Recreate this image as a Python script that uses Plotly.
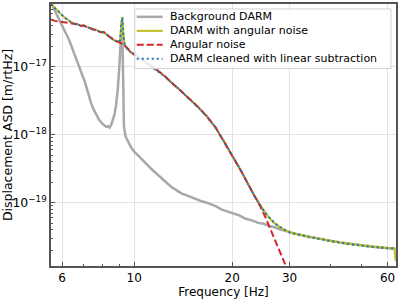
import plotly.graph_objects as go

# ---------------- data ----------------
F_BG = [5.55, 5.7, 5.85, 6.0, 6.15, 6.3, 6.45, 6.6, 6.75, 6.9,
        7.05, 7.2, 7.35, 7.5, 7.65, 7.8, 7.95, 8.1, 8.2, 8.3,
        8.4, 8.5, 8.6, 8.7, 8.8, 8.9, 9.0, 9.08, 9.15, 9.2,
        9.25, 9.3, 9.4, 9.55, 9.7, 9.85, 10.0, 10.3, 10.6, 11.0,
        11.4, 11.8, 12.2, 12.6, 13.0, 13.5, 14.0, 14.5, 15.0, 15.5,
        16.0, 16.6, 17.2, 17.8, 18.5, 19.2, 20.0, 21.0, 22.0, 23.0,
        24, 25, 26, 27, 28, 29, 30, 32, 34, 36,
        38, 40, 43, 46, 50, 54, 58, 63.6]
BG = [8.6e-17, 6.6e-17, 5.2e-17, 4.1e-17, 3.2e-17, 2.5e-17, 1.85e-17, 1.4e-17, 1.08e-17, 8.2e-18,
      6.0e-18, 4.3e-18, 3.0e-18, 2.35e-18, 1.95e-18, 1.65e-18, 1.48e-18, 1.37e-18, 1.3e-18, 1.33e-18,
      1.27e-18, 1.4e-18, 1.62e-18, 2.0e-18, 2.8e-18, 4.6e-18, 1.0e-17, 2.6e-17, 4.6e-17, 2.5e-17,
      4.0e-18, 1.3e-18, 9.5e-19, 8.0e-19, 7.0e-19, 6.2e-19, 5.6e-19, 4.9e-19, 4.2e-19, 3.55e-19,
      3.0e-19, 2.6e-19, 2.2e-19, 1.92e-19, 1.7e-19, 1.52e-19, 1.36e-19, 1.28e-19, 1.19e-19, 1.14e-19,
      1.06e-19, 1.01e-19, 9.4e-20, 8.9e-20, 8.0e-20, 7.5e-20, 6.9e-20, 6.5e-20, 5.8e-20, 5.5e-20,
      5.05e-20, 4.9e-20, 4.55e-20, 4.35e-20, 4.05e-20, 3.9e-20, 3.7e-20, 3.4e-20, 3.2e-20, 3.0e-20,
      2.85e-20, 2.75e-20, 2.6e-20, 2.48e-20, 2.35e-20, 2.25e-20, 2.18e-20, 2.1e-20]

F_DARM = [5.55, 5.65, 5.8, 5.95, 6.1, 6.25, 6.4, 6.55, 6.7, 6.85,
          7.0, 7.15, 7.3, 7.45, 7.6, 7.75, 7.9, 8.05, 8.2, 8.35,
          8.5, 8.65, 8.8, 8.95, 9.05, 9.12, 9.19, 9.26, 9.35, 9.5,
          9.7, 9.9, 10.1, 10.4, 10.7, 11.0, 11.3, 11.6, 12.0, 12.4,
          12.8, 13.2, 13.6, 14.0, 14.4, 14.8, 15.3, 15.8, 16.3, 16.8,
          17.3, 17.8, 18.3, 18.8, 19.3, 19.8, 20.3, 20.8, 21.3, 21.8,
          22.3, 22.8, 23.3, 23.8, 24.3, 24.8, 25.3, 25.8, 26.3, 26.8,
          27.4, 28.0, 28.6, 29.2, 29.8, 30.5, 31.2, 32.0, 32.8, 33.6,
          34.4, 35.2, 36.0, 37.0, 38.0, 39.0, 40.0, 41.0, 42.0, 43.0,
          44, 45, 46, 47, 48, 49, 50, 51, 52, 53,
          54, 55, 56, 57, 58, 59, 60, 61, 62, 63,
          63.6]
DARM_ANG = [8.4e-17, 7.6e-17, 6.7e-17, 5.9e-17, 5.3e-17, 4.8e-17, 4.5e-17, 4.2e-17, 4.2e-17, 3.95e-17,
            4.05e-17, 3.8e-17, 3.72e-17, 3.52e-17, 3.5e-17, 3.36e-17, 3.2e-17, 3.25e-17, 2.98e-17, 2.75e-17,
            2.62e-17, 2.45e-17, 2.38e-17, 2.3e-17, 2.5e-17, 4.2e-17, 5.4e-17, 3.1e-17, 2.05e-17, 1.86e-17,
            1.66e-17, 1.56e-17, 1.45e-17, 1.34e-17, 1.2e-17, 1.12e-17, 1.0e-17, 9.3e-18, 8.2e-18, 7.3e-18,
            6.2e-18, 5.5e-18, 4.8e-18, 4.3e-18, 3.75e-18, 3.35e-18, 2.85e-18, 2.5e-18, 2.1e-18, 1.82e-18,
            1.5e-18, 1.27e-18, 1.0e-18, 8.3e-19, 6.6e-19, 5.4e-19, 4.3e-19, 3.65e-19, 2.9e-19, 2.38e-19,
            1.9e-19, 1.57e-19, 1.3e-19, 1.1e-19, 9.4e-20, 8.0e-20, 7.1e-20, 6.2e-20, 5.7e-20, 5.1e-20,
            4.8e-20, 4.35e-20, 4.15e-20, 3.85e-20, 3.8e-20, 3.55e-20, 3.55e-20, 3.35e-20, 3.35e-20, 3.2e-20,
            3.2e-20, 3.05e-20, 3.05e-20, 2.9e-20, 2.95e-20, 2.78e-20, 2.8e-20, 2.66e-20, 2.7e-20, 2.56e-20,
            2.6e-20, 2.46e-20, 2.52e-20, 2.42e-20, 2.46e-20, 2.36e-20, 2.4e-20, 2.3e-20, 2.36e-20, 2.26e-20,
            2.3e-20, 2.22e-20, 2.27e-20, 2.18e-20, 2.24e-20, 2.15e-20, 2.2e-20, 2.12e-20, 2.18e-20, 2.1e-20,
            1.4e-20]
DARM_CLEAN = [8.3e-17, 7.5e-17, 6.75e-17, 5.95e-17, 5.25e-17, 4.85e-17, 4.45e-17, 4.25e-17, 4.15e-17, 4.0e-17,
              4.0e-17, 3.85e-17, 3.68e-17, 3.55e-17, 3.46e-17, 3.38e-17, 3.22e-17, 3.2e-17, 3.0e-17, 2.78e-17,
              2.6e-17, 2.47e-17, 2.36e-17, 2.32e-17, 2.45e-17, 4.1e-17, 5.3e-17, 3.0e-17, 2.08e-17, 1.84e-17,
              1.68e-17, 1.54e-17, 1.46e-17, 1.32e-17, 1.22e-17, 1.1e-17, 1.01e-17, 9.2e-18, 8.3e-18, 7.2e-18,
              6.3e-18, 5.4e-18, 4.85e-18, 4.25e-18, 3.8e-18, 3.3e-18, 2.9e-18, 2.45e-18, 2.12e-18, 1.8e-18,
              1.52e-18, 1.25e-18, 1.02e-18, 8.2e-19, 6.7e-19, 5.3e-19, 4.35e-19, 3.6e-19, 2.95e-19, 2.35e-19,
              1.92e-19, 1.55e-19, 1.32e-19, 1.09e-19, 9.5e-20, 7.9e-20, 7.0e-20, 6.3e-20, 5.6e-20, 5.2e-20,
              4.7e-20, 4.4e-20, 4.1e-20, 3.9e-20, 3.7e-20, 3.6e-20, 3.45e-20, 3.4e-20, 3.28e-20, 3.25e-20,
              3.12e-20, 3.1e-20, 2.98e-20, 2.95e-20, 2.86e-20, 2.82e-20, 2.74e-20, 2.7e-20, 2.62e-20, 2.6e-20,
              2.53e-20, 2.5e-20, 2.45e-20, 2.45e-20, 2.38e-20, 2.4e-20, 2.33e-20, 2.34e-20, 2.28e-20, 2.3e-20,
              2.24e-20, 2.26e-20, 2.2e-20, 2.22e-20, 2.17e-20, 2.19e-20, 2.14e-20, 2.16e-20, 2.12e-20, 2.13e-20,
              2.1e-20]

F_ANG = [5.55, 5.7, 5.85, 6.0, 6.15, 6.3, 6.45, 6.55, 6.7, 6.85,
         7.0, 7.15, 7.3, 7.45, 7.6, 7.75, 7.9, 8.05, 8.2, 8.35,
         8.5, 8.65, 8.8, 8.95, 9.1, 9.25, 9.4, 9.55, 9.7, 9.9,
         10.1, 10.4, 10.7, 11.0, 11.3, 11.6, 12.0, 12.4, 12.8, 13.2,
         13.6, 14.0, 14.4, 14.8, 15.3, 15.8, 16.3, 16.8, 17.3, 17.8,
         18.3, 18.8, 19.3, 19.8, 20.3, 20.8, 21.3, 21.8, 22.3, 22.8,
         23.3, 23.8, 24.3, 24.8, 25.3, 25.8, 26.3, 26.8, 27.4, 28.0,
         28.6, 29.2, 29.8, 30.4]
ANG = [4.95e-17, 4.7e-17, 4.6e-17, 4.5e-17, 4.5e-17, 4.3e-17, 4.28e-17, 4.2e-17, 4.18e-17, 3.97e-17,
       4.02e-17, 3.82e-17, 3.7e-17, 3.54e-17, 3.48e-17, 3.37e-17, 3.21e-17, 3.23e-17, 2.99e-17, 2.76e-17,
       2.61e-17, 2.46e-17, 2.37e-17, 2.31e-17, 2.22e-17, 2.12e-17, 2.0e-17, 1.85e-17, 1.67e-17, 1.55e-17,
       1.45e-17, 1.33e-17, 1.21e-17, 1.11e-17, 1.0e-17, 9.25e-18, 8.25e-18, 7.25e-18, 6.25e-18, 5.45e-18,
       4.82e-18, 4.28e-18, 3.78e-18, 3.32e-18, 2.88e-18, 2.48e-18, 2.11e-18, 1.81e-18, 1.51e-18, 1.26e-18,
       1.01e-18, 8.25e-19, 6.65e-19, 5.35e-19, 4.32e-19, 3.62e-19, 2.92e-19, 2.36e-19, 1.91e-19, 1.56e-19,
       1.31e-19, 1.1e-19, 9.2e-20, 7.5e-20, 6.1e-20, 4.9e-20, 3.95e-20, 3.15e-20, 2.5e-20, 1.95e-20,
       1.52e-20, 1.2e-20, 9.5e-21, 7.5e-21]

SERIES_NAMES = ["Background DARM", "DARM with angular noise", "Angular noise",
                "DARM cleaned with linear subtraction"]
X_TICKS = [6, 10, 20, 30, 60]
X_TICK_TEXT = ["6", "10", "20", "30", "60"]
Y_TICKS = [1e-19, 1e-18, 1e-17]
Y_TICK_TEXT = ["10<sup>\u221219</sup>", "10<sup>\u221218</sup>", "10<sup>\u221217</sup>"]

# ---------------- styles ----------------
FONT = "DejaVu Sans"
C_GRAY = "#a8a8a8"
C_OLIVE = "#bcbd22"
C_RED = "#d62728"
C_BLUE = "#1f77b4"
FRAME = "#555555"

fig = go.Figure()
fig.add_trace(go.Scatter(x=F_BG, y=BG, mode="lines", name=SERIES_NAMES[0],
                         line=dict(color=C_GRAY, width=2.5)))
fig.add_trace(go.Scatter(x=F_DARM, y=DARM_ANG, mode="lines", name=SERIES_NAMES[1],
                         line=dict(color=C_OLIVE, width=2)))
fig.add_trace(go.Scatter(x=F_ANG, y=ANG, mode="lines", name=SERIES_NAMES[2],
                         line=dict(color=C_RED, width=2, dash="7px,3px")))
fig.add_trace(go.Scatter(x=F_DARM, y=DARM_CLEAN, mode="lines", name=SERIES_NAMES[3],
                         line=dict(color=C_BLUE, width=2, dash="2px,3px")))

minor_x = [7, 8, 9, 40, 50]
minor_y = [k * 10.0 ** d for d in (-20, -19, -18, -17) for k in range(2, 10)]

fig.update_xaxes(type="log", range=[0.7443, 1.8041],
                 tickmode="array", tickvals=X_TICKS, ticktext=X_TICK_TEXT,
                 ticks="inside", ticklen=4, tickcolor=FRAME,
                 showline=True, linecolor=FRAME, linewidth=1.5, mirror=True,
                 showgrid=True, gridcolor="#e3e3e3", gridwidth=1,
                 minor=dict(tickvals=minor_x, ticks="inside", ticklen=2, tickcolor=FRAME, showgrid=False),
                 tickfont=dict(family=FONT, size=12, color="black"),
                 title=dict(text="Frequency [Hz]", font=dict(family=FONT, size=12, color="black"),
                            standoff=0),
                 zeroline=False)
fig.update_yaxes(type="log", range=[-19.93, -16.08],
                 tickmode="array", tickvals=Y_TICKS, ticktext=Y_TICK_TEXT,
                 ticks="inside", ticklen=4, tickcolor=FRAME,
                 showline=True, linecolor=FRAME, linewidth=1.5, mirror=True,
                 showgrid=True, gridcolor="#e3e3e3", gridwidth=1,
                 minor=dict(tickvals=minor_y, ticks="inside", ticklen=2, tickcolor=FRAME, showgrid=False),
                 tickfont=dict(family=FONT, size=12.5, color="black"),
                 title=dict(text="Displacement ASD [m/rtHz]",
                            font=dict(family=FONT, size=12.5, color="black"), standoff=2),
                 zeroline=False)

# ---------------- manual legend (matplotlib-like compact box) ----------------
L_X0, L_X1, L_Y0, L_Y1 = 0.2428, 0.9855, 0.754, 0.981
fig.add_shape(type="rect", xref="paper", yref="paper", x0=L_X0, x1=L_X1, y0=L_Y0, y1=L_Y1,
              line=dict(color="#d0d0d0", width=1), fillcolor="rgba(255,255,255,0.85)", layer="above")
rows_y = [0.951, 0.8975, 0.8445, 0.791]
styles = [dict(color=C_GRAY, width=2.5), dict(color=C_OLIVE, width=2),
          dict(color=C_RED, width=2, dash="7px,3px"), dict(color=C_BLUE, width=2, dash="2px,3px")]
for name, yy, st in zip(SERIES_NAMES, rows_y, styles):
    fig.add_shape(type="line", xref="paper", yref="paper", x0=0.2486, x1=0.3237, y0=yy, y1=yy,
                  line=st, layer="above")
    fig.add_annotation(xref="paper", yref="paper", x=0.3382, y=yy, text=name, showarrow=False,
                       xanchor="left", yanchor="middle",
                       font=dict(family=FONT, size=11, color="black"))

fig.update_layout(width=400, height=299, margin=dict(l=51, r=3, t=2, b=33),
                  paper_bgcolor="white", plot_bgcolor="white", showlegend=False,
                  font=dict(family=FONT, size=12, color="black"))

fig.write_html("out.html", config={"displayModeBar": False},
               post_script="document.body.style.margin='0';document.body.style.overflow='hidden';")
